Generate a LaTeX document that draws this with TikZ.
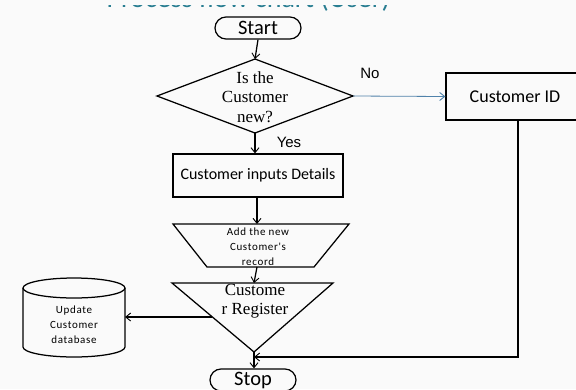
\documentclass[tikz,border=0pt]{standalone}
\usepackage{fontspec}
\newfontfamily\calfont{Carlito}
\newfontfamily\arialfont{Liberation Sans}
\newfontfamily\seriffont{Liberation Serif}
\usetikzlibrary{arrows.meta}
\definecolor{bgc}{RGB}{250,250,250}
\definecolor{teal2}{RGB}{40,125,145}
\definecolor{noblue}{RGB}{80,130,170}
\begin{document}
\begin{tikzpicture}[x=1pt,y=-1pt,line width=1.25pt,
  arr/.style={-{Straight Barb[length=5pt,width=8pt,line width=0.9pt]},line width=1.25pt},
  term/.style={draw,rounded corners=11pt,minimum width=86pt,minimum height=22pt,inner sep=0pt,font=\calfont\fontsize{20.5}{22}\selectfont,fill=bgc},
  procbox/.style={draw,inner sep=0pt,fill=bgc},
  lbl/.style={inner sep=0pt,align=center},
  serifl/.style={lbl,font=\seriffont\fontsize{17}{19.5}\selectfont},
  small/.style={lbl,font=\calfont\addfontfeature{LetterSpace=6}\fontsize{11}{15}\selectfont}]
\useasboundingbox (0,0) rectangle (576,389);
\fill[bgc] (0,0) rectangle (576,389);
% cut-off title
\begin{scope}
\clip (0,5) rectangle (576,389);
\node[anchor=base west,inner sep=0pt,text=teal2,font=\calfont\fontsize{28}{30}\selectfont] (title) at (106,7.5) {Process flow chart (User)};
\end{scope}
% start
\node[term] (start) at (258,28) {Start};
% decision diamond
\coordinate (dT) at (255,59);
\coordinate (dR) at (353,96);
\coordinate (dB) at (255,133);
\coordinate (dL) at (157,96);
\draw (dT) -- (dR) -- (dB) -- (dL) -- cycle;
\node[serifl] (dq) at (255,97) {Is the\\Customer\\new?};
% customer ID
\node[procbox,minimum width=144pt,minimum height=47pt,font=\calfont\fontsize{18}{20}\selectfont] (cid) at (518,96.5) {\hspace*{-6pt}Customer ID};
% inputs box
\node[procbox,minimum width=170pt,minimum height=43pt,font=\calfont\fontsize{16}{18}\selectfont] (inp) at (258,175.5) {Customer inputs Details};
% trapezoid
\coordinate (tTL) at (173,224);
\coordinate (tTR) at (349,224);
\coordinate (tBR) at (314,267);
\coordinate (tBL) at (207,267);
\coordinate (tT) at (257,224);
\coordinate (tB) at (257,267);
\draw (tTL) -- (tTR) -- (tBR) -- (tBL) -- cycle;
\node[small] (rec) at (258,247) {Add the new\\Customer's\\record};
% inverted triangle
\coordinate (rTL) at (172,283);
\coordinate (rTR) at (333,283);
\coordinate (rA) at (254,352);
\coordinate (rT) at (254,283);
\coordinate (rL) at (212.4,317);
\draw (rTL) -- (rTR) -- (rA) -- cycle;
\node[serifl] (reg) at (255,301) {Custome\\r Register};
% cylinder
\coordinate (cE) at (125,317);
\draw[fill=bgc] (23,288) -- (23,347) arc[start angle=180,end angle=360,x radius=51pt,y radius=10pt] -- (125,288);
\draw (74,288) ellipse[x radius=51pt,y radius=10pt];
\node[small] (db) at (74,325) {Update\\Customer\\database};
% stop
\node[term] (stop) at (253,380) {Stop};
% labels
\node[lbl,font=\arialfont\fontsize{15}{17}\selectfont] (no) at (370,73) {No};
\node[lbl,font=\arialfont\fontsize{15}{17}\selectfont] (yes) at (289,142) {Yes};
% connectors
\coordinate (join) at (254,357);
\coordinate (corner) at (518,357);
\draw[arr] (start.south) -- (dT);
\draw[arr,draw=noblue,line width=0.8pt] (dR) -- (cid.west);
\draw[arr] (dB) -- (dB |- inp.north);
\draw[arr] (inp.south -| tT) -- (tT);
\draw[arr] (tB) -- (rT);
\draw[arr] (rL) -- (cE);
\draw[arr] (rA) -- (rA |- stop.north);
\draw[arr] (cid.south) -- (corner) -- (join);
\end{tikzpicture}
\end{document}
